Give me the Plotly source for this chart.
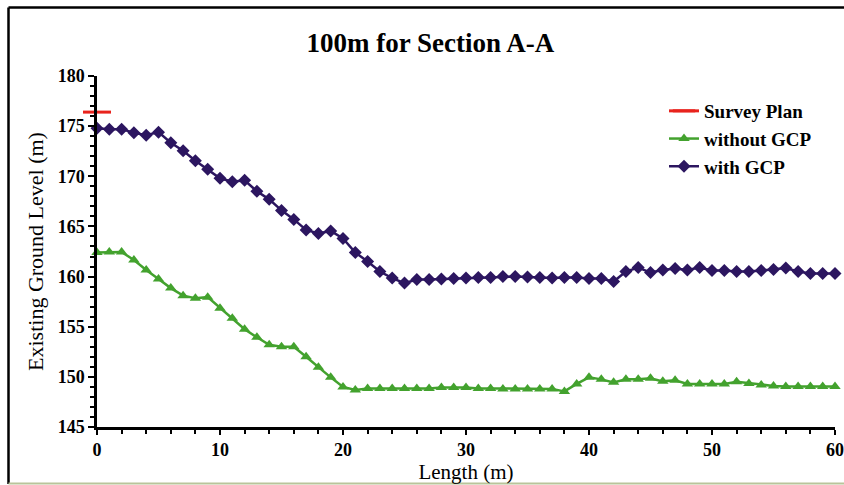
import plotly.graph_objects as go

length_m = list(range(0, 61))

with_gcp = [174.8, 174.7, 174.7, 174.35, 174.1, 174.4, 173.35, 172.55, 171.55, 170.7,
            169.8, 169.45, 169.6, 168.5, 167.7, 166.6, 165.7, 164.65, 164.3, 164.55,
            163.8, 162.4, 161.5, 160.5, 159.85, 159.35, 159.7, 159.7, 159.75, 159.8,
            159.85, 159.9, 159.9, 160.0, 160.0, 159.95, 159.9, 159.85, 159.9, 159.9,
            159.8, 159.8, 159.5, 160.5, 160.9, 160.4, 160.65, 160.8, 160.65, 160.9,
            160.6, 160.6, 160.5, 160.5, 160.6, 160.7, 160.85, 160.5, 160.3, 160.3, 160.3]

without_gcp = [162.4, 162.45, 162.45, 161.65, 160.65, 159.75, 158.85, 158.1, 157.85, 157.95,
               156.85, 155.85, 154.75, 153.95, 153.2, 153.0, 153.0, 152.0, 150.95, 149.95,
               149.0, 148.7, 148.85, 148.85, 148.85, 148.85, 148.85, 148.85, 148.95, 148.95,
               148.95, 148.85, 148.85, 148.8, 148.8, 148.8, 148.8, 148.8, 148.55, 149.3,
               149.95, 149.75, 149.45, 149.75, 149.75, 149.85, 149.55, 149.65, 149.3, 149.3,
               149.3, 149.3, 149.5, 149.35, 149.2, 149.1, 149.05, 149.05, 149.05, 149.05, 149.05]

survey_x = [0]
survey_y = [176.4]

SERIF = "'Liberation Serif'"

fig = go.Figure()
fig.add_trace(go.Scatter(
    x=survey_x, y=survey_y, name="Survey Plan", mode="lines+markers",
    line=dict(color="#e8231d", width=3),
    marker=dict(symbol="line-ew", size=20, line=dict(color="#e8231d", width=3)),
    cliponaxis=False,
))
fig.add_trace(go.Scatter(
    x=length_m, y=without_gcp, name="without GCP", mode="lines+markers",
    line=dict(color="#43a22e", width=2.5),
    marker=dict(symbol="triangle-up", size=10, color="#43a22e"),
    cliponaxis=False,
))
fig.add_trace(go.Scatter(
    x=length_m, y=with_gcp, name="with GCP", mode="lines+markers",
    line=dict(color="#2c1660", width=2.5),
    marker=dict(symbol="diamond", size=10, color="#2c1660"),
    cliponaxis=False,
))

L, R, T, B = 97, 9, 76, 58
W, H = 844, 485
pw, ph = W - L - R, H - T - B

def px(p):
    return (p - L) / pw

def py(q):
    return (H - B - q) / ph

fig.update_layout(
    width=W, height=H,
    margin=dict(l=L, r=R, t=T, b=B, autoexpand=False),
    paper_bgcolor="white", plot_bgcolor="white",
    font=dict(family=SERIF, color="black"),
    title=dict(text="100m for Section A-A", font=dict(family=SERIF, size=27, weight="bold", color="black"),
               x=0.51, xref="container", xanchor="center",
               y=1 - 43 / H, yref="container", yanchor="middle"),
    showlegend=True,
    legend=dict(x=px(664), xanchor="left", y=py(92), yanchor="top",
                font=dict(family=SERIF, size=19, weight="bold", color="black"),
                bgcolor="rgba(0,0,0,0)", tracegroupgap=0),
    xaxis=dict(range=[0, 60], dtick=10, tick0=0, showgrid=False, zeroline=False,
               showline=True, linecolor="black", linewidth=2.5,
               ticks="outside", ticklen=5, tickwidth=2, tickcolor="black",
               ticklabeloverflow="allow",
               minor=dict(dtick=2, ticks="outside", ticklen=4, tickwidth=2, tickcolor="black", showgrid=False),
               tickfont=dict(family=SERIF, size=18, weight="bold", color="black"),
               title=dict(text="Length (m)", font=dict(family=SERIF, size=21, color="black"), standoff=0)),
    yaxis=dict(range=[145, 180], dtick=5, tick0=145, showgrid=False, zeroline=False,
               showline=True, linecolor="black", linewidth=2.5,
               ticks="outside", ticklen=6, tickwidth=2, tickcolor="black",
               minor=dict(dtick=1, ticks="outside", ticklen=4, tickwidth=2, tickcolor="black", showgrid=False),
               tickfont=dict(family=SERIF, size=18, weight="bold", color="black"),
               title=dict(text="Existing Ground Level (m)", font=dict(family=SERIF, size=22, color="black"), standoff=8)),
)

fig.add_shape(type="line", xref="paper", yref="paper", x0=px(8.5), x1=px(850), y0=py(7.5), y1=py(7.5),
              line=dict(color="black", width=2.5))
fig.add_shape(type="line", xref="paper", yref="paper", x0=px(8.5), x1=px(8.5), y0=py(7.5), y1=py(484),
              line=dict(color="black", width=2.5))
fig.add_shape(type="line", xref="paper", yref="paper", x0=px(8.5), x1=px(850), y0=py(483.5), y1=py(483.5),
              line=dict(color="#b9c49a", width=2))

fig.write_html("out.html")
